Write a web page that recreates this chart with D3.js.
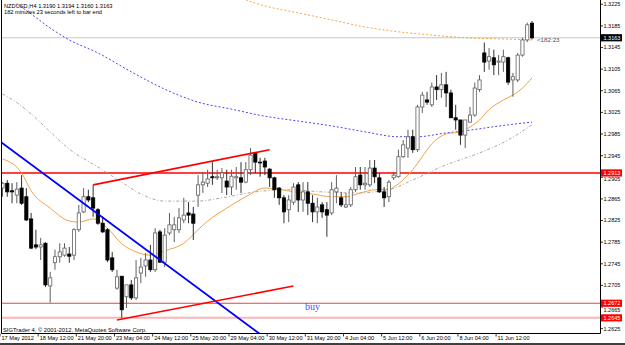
<!DOCTYPE html>
<html>
<head>
<meta charset="utf-8">
<script src="https://cdnjs.cloudflare.com/ajax/libs/d3/7.8.5/d3.min.js"></script>
<style>
  body { margin: 0; background: #fff; }
  svg { display: block; font-family: "Liberation Sans", Arial, sans-serif; }
</style>
</head>
<body>
<div id="chartDiv"></div>
<script>
// ---- data (NZDUSD H4) ----
const opens = [
  1.2885,1.2894,1.2880,1.2872,1.2885,1.2869,1.2828,1.2780,1.2776,1.2783,
  1.2704,1.2747,1.2758,1.2761,1.2763,1.2761,1.2808,1.2841,1.2869,1.2867,
  1.2845,1.2820,1.2808,1.2756,1.2700,1.2722,1.2684,1.2706,1.2682,1.2728,
  1.2741,1.2752,1.2734,1.2804,1.2748,1.2802,1.2808,1.2808,1.2826,1.2839,
  1.2837,1.2872,1.2891,1.2894,1.2906,1.2904,1.2904,1.2898,1.2887,1.2904,
  1.2904,1.2896,1.2919,1.2950,1.2933,1.2935,1.2920,1.2904,1.2885,1.2867,
  1.2845,1.2859,1.2891,1.2863,1.2878,1.2857,1.2841,1.2854,1.2845,1.2839,
  1.2878,1.2867,1.2850,1.2854,1.2882,1.2909,1.2891,1.2891,1.2922,1.2904,
  1.2878,1.2869,1.2904,1.2906,1.2943,1.2959,1.2980,1.2956,1.3035,1.3048,
  1.3039,1.3072,1.3067,1.3076,1.3061,1.3015,1.3011,1.2983,1.3007,1.3020,
  1.3067,1.3135,1.3120,1.3126,1.3118,1.3118,1.3126,1.3085,1.3085,1.3131,
  1.3159,1.3190
];
const highs = [
  1.2896,1.2900,1.2894,1.2896,1.2909,1.2885,1.2839,1.2808,1.2793,1.2785,
  1.2730,1.2771,1.2783,1.2783,1.2776,1.2811,1.2854,1.2885,1.2882,1.2891,
  1.2848,1.2832,1.2811,1.2767,1.2734,1.2722,1.2706,1.2715,1.2752,1.2756,
  1.2765,1.2780,1.2811,1.2808,1.2811,1.2839,1.2832,1.2848,1.2867,1.2859,
  1.2850,1.2909,1.2915,1.2919,1.2933,1.2919,1.2922,1.2919,1.2919,1.2924,
  1.2933,1.2933,1.2959,1.2950,1.2941,1.2941,1.2922,1.2906,1.2887,1.2872,
  1.2872,1.2894,1.2896,1.2896,1.2896,1.2872,1.2867,1.2859,1.2859,1.2896,
  1.2909,1.2878,1.2876,1.2887,1.2924,1.2924,1.2924,1.2937,1.2937,1.2913,
  1.2887,1.2900,1.2915,1.2956,1.2974,1.2993,1.2993,1.3039,1.3063,1.3063,
  1.3080,1.3094,1.3098,1.3100,1.3067,1.3039,1.3011,1.3011,1.3035,1.3080,
  1.3094,1.3154,1.3144,1.3141,1.3131,1.3141,1.3128,1.3098,1.3135,1.3163,
  1.3191,1.3194
];
const lows = [
  1.2869,1.2869,1.2857,1.2857,1.2854,1.2824,1.2772,1.2772,1.2752,1.2702,
  1.2673,1.2734,1.2747,1.2758,1.2747,1.2752,1.2804,1.2839,1.2859,1.2832,
  1.2817,1.2802,1.2748,1.2730,1.2697,1.2645,1.2663,1.2678,1.2678,1.2709,
  1.2721,1.2730,1.2730,1.2747,1.2739,1.2798,1.2785,1.2802,1.2820,1.2820,
  1.2789,1.2850,1.2876,1.2887,1.2891,1.2900,1.2876,1.2872,1.2872,1.2882,
  1.2876,1.2894,1.2909,1.2913,1.2906,1.2909,1.2887,1.2867,1.2854,1.2820,
  1.2822,1.2854,1.2841,1.2841,1.2835,1.2822,1.2820,1.2830,1.2795,1.2835,
  1.2857,1.2850,1.2848,1.2850,1.2878,1.2882,1.2882,1.2887,1.2894,1.2876,
  1.2850,1.2859,1.2900,1.2904,1.2941,1.2941,1.2950,1.2952,1.3024,1.3039,
  1.3035,1.3048,1.3052,1.3035,1.3015,1.2993,1.2965,1.2959,1.3006,1.3017,
  1.3063,1.3100,1.3104,1.3094,1.3094,1.3100,1.3076,1.3054,1.3081,1.3128,
  1.3155,1.3160
];
const closes = [
  1.2894,1.2878,1.2878,1.2883,1.2857,1.2826,1.2774,1.2776,1.2780,1.2706,
  1.2719,1.2758,1.2767,1.2774,1.2759,1.2808,1.2839,1.2869,1.2863,1.2848,
  1.2820,1.2804,1.2752,1.2734,1.2721,1.2660,1.2706,1.2682,1.2719,1.2739,
  1.2752,1.2734,1.2802,1.2748,1.2798,1.2817,1.2817,1.2830,1.2835,1.2835,
  1.2820,1.2891,1.2896,1.2902,1.2904,1.2906,1.2913,1.2887,1.2907,1.2906,
  1.2896,1.2919,1.2946,1.2933,1.2932,1.2924,1.2904,1.2882,1.2867,1.2841,
  1.2863,1.2887,1.2863,1.2878,1.2857,1.2841,1.2850,1.2841,1.2835,1.2882,
  1.2885,1.2854,1.2854,1.2882,1.2906,1.2891,1.2894,1.2922,1.2906,1.2878,
  1.2867,1.2896,1.2909,1.2943,1.2965,1.2980,1.2956,1.3035,1.3057,1.3044,
  1.3072,1.3067,1.3076,1.3061,1.3015,1.3011,1.2983,1.3011,1.3020,1.3070,
  1.3085,1.3118,1.3128,1.3113,1.3120,1.3128,1.3081,1.3091,1.3131,1.3159,
  1.3187,1.3163
];

// moving averages, [bar, price]
const maFast = [[0,1.2939],[4,1.2913],[6,1.2880],[10,1.2848],[14,1.2824],[16,1.2822],[19,1.2828],
  [22,1.2811],[25,1.2782],[28,1.2767],[31,1.2761],[34,1.2769],[38,1.2783],[41,1.2808],[43,1.2824],
  [47,1.2848],[51,1.2869],[55,1.2885],[58,1.2883],[61,1.2878],[65,1.2874],[69,1.2869],[72,1.2869],
  [75,1.2876],[78,1.2882],[81,1.2883],[83,1.2893],[86,1.2919],[88,1.2943],[90,1.2967],[93,1.2985],
  [96,1.2989],[98,1.2998],[100,1.3011],[102,1.3030],[105,1.3048],[107,1.3057],[109,1.3070],[111,1.3089]];
const maBlue = [[3,1.3226],[6,1.3207],[10,1.3181],[14,1.3159],[20,1.3135],[27,1.3100],[34,1.3068],
  [41,1.3044],[48,1.3031],[55,1.3018],[62,1.3009],[69,1.3000],[76,1.2989],[83,1.2980],[87,1.2980],
  [93,1.2987],[97,1.2991],[101,1.2996],[106,1.3002],[111,1.3007]];
const maGray = [[0,1.3059],[3,1.3043],[6,1.3022],[10,1.2989],[14,1.2957],[20,1.2924],[25,1.2896],
  [29,1.2874],[34,1.2861],[41,1.2861],[46,1.2867],[53,1.2878],[60,1.2882],[67,1.2878],[74,1.2876],
  [81,1.2882],[86,1.2900],[93,1.2928],[100,1.2950],[106,1.2974],[111,1.3002]];
const maSlow = [[51,1.3233],[55,1.3222],[62,1.3209],[69,1.3196],[76,1.3183],[83,1.3174],
  [90,1.3168],[97,1.3163],[104,1.3161],[111,1.3159]];

// drawn objects
const blueTrend = [[0,1.2968],[50,1.2641]];
const redUpper = [[19,1.2891],[56,1.2956]];
const redLower = [[24,1.2641],[61,1.2704]];
const levelPrices = [1.2913, 1.2672, 1.2645];
const bidPrice = 1.3163;

const priceTicks = [1.3225,1.3185,1.3145,1.3105,1.3065,1.3025,1.2985,1.2945,1.2905,
  1.2865,1.2825,1.2785,1.2745,1.2705,1.2665,1.2625];
const timeTickBars = [0,8,16,24,32,40,48,56,64,72,80,88,96,104];
const timeTickLabels = ["17 May 2012","18 May 12:00","21 May 20:00","23 May 04:00","24 May 12:00",
  "25 May 20:00","29 May 04:00","30 May 12:00","31 May 20:00","4 Jun 04:00","5 Jun 12:00",
  "6 Jun 20:00","8 Jun 04:00","11 Jun 12:00"];

// ---- setup ----
const W = 625, H = 345;
const f = { l: 1.5, t: 0, r: 600.5, b: 333.5 };
const fmt = d3.format(".4f");

const svgObj = d3.select("#chartDiv").append("svg").attr("width", W).attr("height", H);
svgObj.append("rect").attr("width", W).attr("height", H).attr("fill", "#fff");

const x = d3.scaleLinear().domain([0, 111]).range([2.5, 532]);
const y = d3.scaleLinear().domain([1.2617, 1.3231]).range([333, 1]);

svgObj.append("clipPath").attr("id", "plotClip")
  .append("rect").attr("x", f.l).attr("y", f.t).attr("width", f.r - f.l).attr("height", f.b - f.t);

const plot = svgObj.append("g").attr("clip-path", "url(#plotClip)");

function drawLevel(price, color, w){
  plot.append("line")
    .attr("x1", f.l).attr("x2", f.r)
    .attr("y1", y(price)).attr("y2", y(price))
    .attr("stroke", color).attr("stroke-width", w);
}

// bid line + horizontal levels
drawLevel(bidPrice, "#c8c8c8", 1);
const levelStyles = [["#ff0000", 1.6], ["#f04040", 1], ["#ffb4b4", 2]];
levelPrices.forEach((p, i) => drawLevel(p, levelStyles[i][0], levelStyles[i][1]));

// moving averages
const maLine = d3.line().x(d => x(d[0])).y(d => y(d[1])).curve(d3.curveMonotoneX);
function drawMA(data, color, dash){
  plot.append("path").datum(data)
    .attr("d", maLine)
    .attr("fill", "none")
    .attr("stroke", color).attr("stroke-width", 1)
    .attr("stroke-dasharray", dash);
}
drawMA(maSlow, "#f6a94c", "2,2");
drawMA(maBlue, "#4848f0", "2,2");
drawMA(maGray, "#a8a8a8", "3,2,1,2");
drawMA(maFast, "#f2a24a", null);

// candles
const bars = d3.range(opens.length).map(i => ({
  i, o: opens[i], h: highs[i], l: lows[i], c: closes[i]
}));

const candleG = plot.selectAll("g.candle").data(bars).enter().append("g").attr("class", "candle");
candleG.append("line")
  .attr("x1", d => x(d.i)).attr("x2", d => x(d.i))
  .attr("y1", d => y(d.h)).attr("y2", d => y(d.l))
  .attr("stroke", d => d.c >= d.o ? "#606060" : "#303030")
  .attr("stroke-width", 1);
candleG.append("rect")
  .attr("x", d => x(d.i) - 1.6)
  .attr("width", 3.2)
  .attr("y", d => y(Math.max(d.o, d.c)))
  .attr("height", d => Math.max(0.8, Math.abs(y(d.o) - y(d.c))))
  .attr("fill", d => d.c >= d.o ? "#fff" : "#000")
  .attr("stroke", d => d.c >= d.o ? "#606060" : "#000")
  .attr("stroke-width", 0.8);

// trend lines
function priceAt(line, b){
  const [a, z] = line;
  return a[1] + (z[1] - a[1]) * (b - a[0]) / (z[0] - a[0]);
}
function drawTrend(line, color, w, ray){
  const b0 = ray ? -10 : line[0][0];
  const b1 = ray ? 130 : line[1][0];
  plot.append("line")
    .attr("x1", x(b0)).attr("y1", y(priceAt(line, b0)))
    .attr("x2", x(b1)).attr("y2", y(priceAt(line, b1)))
    .attr("stroke", color).attr("stroke-width", w);
}
drawTrend(blueTrend, "#0000ff", 1.8, true);
drawTrend(redUpper, "#ff0000", 1.6, false);
drawTrend(redLower, "#ff0000", 1.6, false);

// "buy" text
plot.append("text")
  .attr("x", 305).attr("y", 310)
  .attr("font-family", "'Liberation Serif', 'Times New Roman', serif")
  .attr("font-size", 10).attr("fill", "#4a4aff")
  .text("buy");

// countdown
plot.append("text")
  .attr("x", x(111) + 5).attr("y", y(bidPrice) + 4.5)
  .attr("font-size", 6.2).attr("fill", "#505050")
  .text("<182:23");

// frame: left, right, bottom
svgObj.append("path")
  .attr("d", `M${f.l},${f.t}V${f.b}H${f.r}V${f.t}`)
  .attr("fill", "none").attr("stroke", "#000").attr("stroke-width", 1);

// info texts
svgObj.append("text").attr("x", 4).attr("y", 8).attr("font-size", 5.7).attr("fill", "#000")
  .text("NZDUSD,H4  1.3190 1.3194 1.3160 1.3163");
svgObj.append("text").attr("x", 4).attr("y", 14).attr("font-size", 5.7).attr("fill", "#000")
  .text("182 minutes 23 seconds left to bar end");
svgObj.append("text").attr("x", 3).attr("y", 332).attr("font-size", 5.8).attr("fill", "#000")
  .text("SIGTrader 4, \u00a9 2001-2012, MetaQuotes Software Corp.");

// price axis; a tick label that falls under a price box is pushed just below it
const boxPrices = [bidPrice].concat(levelPrices);
const pAxis = svgObj.append("g");
priceTicks.forEach(p => {
  pAxis.append("line").attr("x1", f.r).attr("x2", f.r + 2.5)
    .attr("y1", y(p)).attr("y2", y(p)).attr("stroke", "#000").attr("stroke-width", 0.8);
  let ty = y(p);
  boxPrices.forEach(bp => {
    if (Math.abs(y(bp) - ty) < 6.5) ty = y(bp) + 6.6;
  });
  pAxis.append("text").attr("x", 603.5).attr("y", ty).attr("dy", "0.35em")
    .attr("font-size", 5.5).attr("fill", "#000").text(fmt(p));
});

function priceBox(p, bg){
  pAxis.append("rect").attr("x", 601).attr("y", y(p) - 3.6).attr("width", 21).attr("height", 7.2)
    .attr("fill", bg);
  pAxis.append("text").attr("x", 603.5).attr("y", y(p)).attr("dy", "0.35em")
    .attr("font-size", 5.5).attr("fill", "#fff").text(fmt(p));
}
boxPrices.forEach((p, i) => priceBox(p, i === 0 ? "#000" : "#ff0000"));

// time axis
const tAxis = svgObj.append("g");
timeTickBars.forEach((b, i) => {
  tAxis.append("line").attr("x1", x(b) - 2.5).attr("x2", x(b) - 2.5)
    .attr("y1", f.b).attr("y2", f.b + 3).attr("stroke", "#000").attr("stroke-width", 0.8);
  tAxis.append("text").attr("x", x(b) - 1).attr("y", 340)
    .attr("font-size", 5.6).attr("fill", "#000").text(timeTickLabels[i]);
});

// window bottom edge
svgObj.append("rect").attr("x", 0).attr("y", 343).attr("width", W).attr("height", 2).attr("fill", "#404040");
</script>
</body>
</html>
